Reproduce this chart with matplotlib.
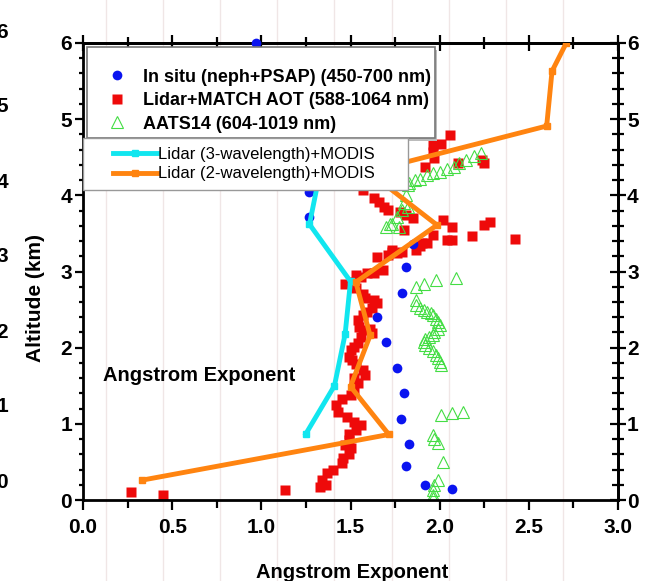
import numpy as np
import matplotlib
matplotlib.use('Agg')
import matplotlib.pyplot as plt
from matplotlib.patches import Rectangle
from matplotlib.ticker import MultipleLocator, FormatStrFormatter

plt.rcParams['font.family'] = ['Liberation Sans', 'DejaVu Sans']
plt.rcParams['font.weight'] = 'bold'

# In situ (neph+PSAP)
insitu_x = [0.97, 1.27, 1.27, 1.85, 1.81, 1.79, 1.65, 1.70, 1.76, 1.80, 1.785, 1.83, 1.81, 1.92, 2.07]
insitu_y = [6.00, 4.05, 3.72, 3.36, 3.06, 2.72, 2.40, 2.07, 1.73, 1.40, 1.07, 0.74, 0.45, 0.20, 0.14]

# Lidar+MATCH AOT
match_x = [2.06, 1.96, 2.01, 1.96, 1.97, 1.92, 2.10, 2.24, 2.25,
           1.57, 1.63, 1.66, 1.69, 1.71, 1.78, 1.81, 1.85, 1.80, 2.02, 2.07, 1.96, 2.04, 2.07,
           2.18, 2.25, 2.28, 2.42, 1.90, 1.89, 1.93, 1.73, 1.76, 1.65,
           1.71, 1.73, 1.79, 1.87, 1.68, 1.63, 1.59, 1.53, 1.56, 1.47, 1.51, 1.53,
           1.57, 1.58, 1.63, 1.65, 1.62, 1.59, 1.57, 1.54, 1.55, 1.57, 1.61, 1.62,
           1.56, 1.54, 1.52, 1.50, 1.49, 1.51, 1.53, 1.57, 1.58, 1.52,
           1.54, 1.52, 1.50, 1.45, 1.42, 1.43, 1.48, 1.52, 1.56, 1.53, 1.49, 1.49,
           1.47, 1.50, 1.49, 1.46, 1.45, 1.40, 1.37, 1.34, 1.33, 1.36,
           0.27, 0.45, 1.13]
match_y = [4.79, 4.66, 4.67, 4.57, 4.49, 4.37, 4.42, 4.47, 4.43,
           4.07, 3.96, 3.91, 3.85, 3.81, 3.78, 3.74, 3.70, 3.54, 3.67, 3.59, 3.48, 3.41, 3.41,
           3.46, 3.61, 3.65, 3.43, 3.37, 3.33, 3.38, 3.28, 3.24, 3.19,
           3.22, 3.26, 3.26, 3.28, 3.02, 2.98, 2.98, 2.95, 2.93, 2.84, 2.86, 2.78,
           2.71, 2.65, 2.62, 2.58, 2.52, 2.47, 2.43, 2.36, 2.27, 2.23, 2.25, 2.19,
           2.14, 2.06, 2.01, 1.97, 1.88, 1.84, 1.79, 1.71, 1.64, 1.60,
           1.53, 1.44, 1.38, 1.33, 1.25, 1.16, 1.09, 1.03, 0.98, 0.92, 0.87, 0.79,
           0.72, 0.68, 0.61, 0.55, 0.48, 0.39, 0.35, 0.26, 0.17, 0.20,
           0.10, 0.07, 0.13]

# AATS14
aats_x = [1.82, 1.83, 1.86, 1.89, 1.93, 1.96, 2.00, 2.04, 2.08, 2.11, 2.15, 2.19, 2.23,
          1.81, 1.80, 1.82, 1.79, 1.76, 1.73, 1.72, 1.77, 1.70,
          1.87, 1.91, 1.98, 2.09, 1.87,
          1.87, 1.89, 1.91, 1.93, 1.95, 1.96, 1.98, 1.99, 2.00, 1.99, 1.97,
          1.96, 1.94, 1.92, 1.91, 1.92, 1.94, 1.96, 1.98, 1.99, 2.00, 2.01,
          2.01, 2.07, 2.13, 1.96, 1.97, 1.99, 2.02, 1.99, 1.97, 1.96, 1.96, 1.96]
aats_y = [4.13, 4.16, 4.20, 4.22, 4.27, 4.29, 4.31, 4.35, 4.37, 4.42, 4.46, 4.51, 4.55,
          4.00, 3.90, 3.85, 3.81, 3.72, 3.62, 3.63, 3.58, 3.59,
          2.80, 2.84, 2.89, 2.91, 2.62,
          2.56, 2.52, 2.49, 2.47, 2.45, 2.43, 2.38, 2.34, 2.30, 2.25, 2.21,
          2.17, 2.14, 2.12, 2.08, 2.03, 1.99, 1.95, 1.90, 1.86, 1.81, 1.77,
          1.12, 1.14, 1.16, 0.855, 0.80, 0.75, 0.50, 0.26, 0.20, 0.13, 0.07, 0.02]

# Lidar (3-wavelength)+MODIS
lidar3_x = [1.25, 1.41, 1.47, 1.50, 1.27, 1.32]
lidar3_y = [0.87, 1.50, 2.18, 2.87, 3.62, 4.20]

# Lidar (2-wavelength)+MODIS
lidar2_x = [0.33, 1.715, 1.50, 1.61, 1.53, 1.985, 1.60, 2.60, 2.63, 2.71]
lidar2_y = [0.26, 0.86, 1.49, 2.16, 2.86, 3.61, 4.31, 4.91, 5.63, 6.00]

# faint vertical background lines (data units)
bg_x = [0.13, 0.45, 0.77, 1.09, 1.41, 1.73, 2.05, 2.37, 2.69]

W, H = 652, 581
fig = plt.figure(figsize=(W / 100, H / 100), dpi=100)
ax = fig.add_axes([83 / W, 1 - 500 / H, 535 / W, 457 / H])

for xv in bg_x:
    ax.axvline(xv, ymin=-0.2, ymax=1.12, color='#f0e6e6', lw=1.0, zorder=0, clip_on=False)

h1, = ax.plot(insitu_x, insitu_y, 'o', color='#0a14f0', ms=7, mec='none', clip_on=False, zorder=3,
              label='In situ (neph+PSAP) (450-700 nm)')
h2, = ax.plot(match_x, match_y, 's', color='#ee0a0a', ms=7.3, mec='none', zorder=2,
              label='Lidar+MATCH AOT (588-1064 nm)')
h3, = ax.plot(aats_x, aats_y, '^', mfc='none', mec='#44dd44', ms=8, mew=0.8, zorder=2,
              label='AATS14 (604-1019 nm)')
h4, = ax.plot(lidar3_x, lidar3_y, '-s', color='#11e6ef', lw=3.5, ms=4.5, zorder=4,
              label='Lidar (3-wavelength)+MODIS')
h5, = ax.plot(lidar2_x, lidar2_y, '-s', color='#ff8410', lw=3.5, ms=4.5, zorder=4,
              label='Lidar (2-wavelength)+MODIS')

ax.set_xlim(0, 3.0)
ax.set_ylim(0, 6)

for s in ax.spines.values():
    s.set_linewidth(2)

ax.xaxis.set_major_locator(MultipleLocator(0.5))
ax.xaxis.set_minor_locator(MultipleLocator(0.25))
ax.xaxis.set_major_formatter(FormatStrFormatter('%.1f'))
ax.yaxis.set_major_locator(MultipleLocator(1))
ax.yaxis.set_minor_locator(MultipleLocator(0.2))
ax.tick_params(which='both', direction='out', width=1.6, labelsize=15)
ax.tick_params(axis='x', which='major', length=7, pad=6)
ax.tick_params(axis='x', which='minor', length=6)
ax.tick_params(axis='y', which='major', length=6, pad=2)
ax.tick_params(axis='y', which='minor', length=3)

top = ax.secondary_xaxis('top')
top.xaxis.set_major_locator(MultipleLocator(0.5))
top.xaxis.set_minor_locator(MultipleLocator(0.25))
top.tick_params(which='both', direction='inout', width=1.6, labeltop=False)
top.tick_params(which='major', length=11)
top.tick_params(which='minor', length=8)
top.spines['top'].set_linewidth(2)

right = ax.secondary_yaxis('right')
right.yaxis.set_major_locator(MultipleLocator(1))
right.yaxis.set_minor_locator(MultipleLocator(0.2))
right.tick_params(which='both', direction='inout', width=1.6, labelsize=15, pad=1)
right.tick_params(which='major', length=11)
right.tick_params(which='minor', length=8)
right.spines['right'].set_linewidth(2)

ax.set_xlabel('Angstrom Exponent', fontsize=14.5, fontweight='bold')
ax.xaxis.set_label_coords(0.503, -0.138)
ax.set_ylabel('Altitude (km)', fontsize=15, fontweight='bold')
ax.yaxis.set_label_coords(-0.071, 0.442)

ax.text(0.11, 1.64, 'Angstrom Exponent', fontsize=14.5, fontweight='bold', va='center', ha='left')

# legend boxes (drawn separately so their size matches the original)
box1 = Rectangle((0.0075, 0.792), 0.6505, 0.199, transform=ax.transAxes, facecolor='white',
                 edgecolor='#777777', lw=1.2, zorder=5, clip_on=False)
shadow1 = Rectangle((0.0115, 0.786), 0.6505, 0.199, transform=ax.transAxes, facecolor='#bbbbbb',
                    edgecolor='none', zorder=4.9, clip_on=False)
box2 = Rectangle((0.0, 0.678), 0.6075, 0.114, transform=ax.transAxes, facecolor='white',
                 edgecolor='#999999', lw=1.0, zorder=5.5, clip_on=False)
ax.add_patch(shadow1)
ax.add_patch(box1)
ax.add_patch(box2)

leg1 = ax.legend(handles=[h1, h2, h3], loc='upper left', bbox_to_anchor=(0.0364, 0.944),
                 frameon=False, borderaxespad=0, borderpad=0,
                 handletextpad=0.64, labelspacing=0.36, handlelength=1.6,
                 prop={'size': 13, 'weight': 'bold'})
leg1.set_zorder(6)
ax.add_artist(leg1)

leg2 = ax.legend(handles=[h4, h5], loc='upper left', bbox_to_anchor=(0.056, 0.772),
                 frameon=False, borderaxespad=0, borderpad=0,
                 handletextpad=0.05, labelspacing=0.25, handlelength=2.65,
                 prop={'size': 12, 'weight': 'normal'})
leg2.set_zorder(7)

# cut-off tick labels of the neighbouring panel at the left edge
for yv in range(7):
    py = 482 - yv * 75
    fig.text(8 / W, 1 - py / H, str(yv), fontsize=15, fontweight='bold', ha='right', va='center')

fig.savefig('out.png', dpi=100)
